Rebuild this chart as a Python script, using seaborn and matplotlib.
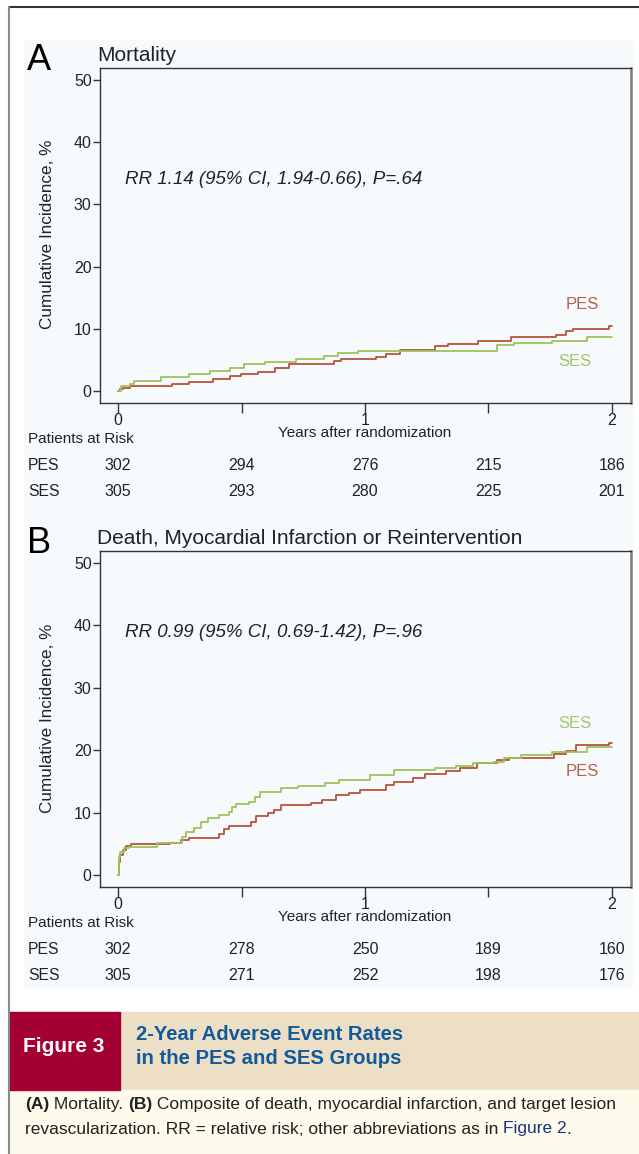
import numpy as np
import pandas as pd
import seaborn as sns
import matplotlib.pyplot as plt
from matplotlib.patches import Rectangle
from matplotlib.transforms import blended_transform_factory

W, H = 639, 1154

# Panel A: mortality, cumulative incidence (%) step points
a_pes_years = [0, 0.008, 0.021, 0.049, 0.217, 0.287, 0.385, 0.455, 0.497, 0.567, 0.637, 0.693,
               0.875, 0.903, 1.043, 1.085, 1.141, 1.282, 1.338, 1.457, 1.590, 1.772, 1.814,
               1.842, 1.989, 2.0]
a_pes = [0, 0.3, 0.5, 0.8, 1.1, 1.4, 1.9, 2.5, 2.7, 3.1, 3.8, 4.3, 4.8, 5.2, 5.5, 6.0, 6.6,
         7.2, 7.6, 8.1, 8.7, 9.1, 9.7, 10.0, 10.4, 10.4]
a_ses_years = [0, 0.014, 0.049, 0.063, 0.175, 0.287, 0.371, 0.455, 0.511, 0.595, 0.721, 0.833,
               0.889, 0.973, 1.534, 1.604, 1.758, 1.898, 2.0]
a_ses = [0, 0.8, 1.2, 1.6, 2.2, 2.8, 3.3, 3.8, 4.3, 4.7, 5.2, 5.6, 6.1, 6.5, 7.4, 7.8, 8.1,
         8.7, 8.7]

# Panel B: death, MI or reintervention
b_pes_years = [0, 0.003, 0.01, 0.02, 0.031, 0.052, 0.212, 0.254, 0.288, 0.407, 0.428, 0.449,
               0.539, 0.560, 0.609, 0.630, 0.658, 0.783, 0.825, 0.881, 0.937, 0.978, 1.083,
               1.118, 1.194, 1.243, 1.327, 1.383, 1.452, 1.536, 1.585, 1.766, 1.815, 1.856,
               1.989, 2.0]
b_pes = [0, 2.1, 3.2, 4.0, 4.7, 5.0, 5.2, 5.6, 6.0, 6.6, 7.4, 7.9, 8.5, 9.5, 10.0, 10.5, 11.2,
         11.6, 12.1, 12.8, 13.2, 13.6, 14.4, 14.9, 15.6, 16.2, 16.7, 17.2, 18.0, 18.4, 18.8,
         19.4, 19.9, 20.8, 21.2, 21.2]
b_ses_years = [0, 0.003, 0.01, 0.024, 0.045, 0.156, 0.212, 0.261, 0.275, 0.309, 0.337, 0.365,
               0.407, 0.449, 0.463, 0.477, 0.532, 0.553, 0.574, 0.658, 0.728, 0.839, 0.895,
               1.020, 1.118, 1.285, 1.369, 1.438, 1.522, 1.564, 1.633, 1.759, 1.898, 2.0]
b_ses = [0, 2.9, 3.7, 4.3, 4.5, 5.1, 5.2, 6.1, 6.9, 7.5, 8.5, 9.1, 9.6, 10.1, 10.9, 11.4, 11.7,
         12.5, 13.3, 14.0, 14.3, 14.8, 15.3, 16.0, 16.8, 17.1, 17.5, 17.9, 18.1, 18.7, 19.2,
         19.7, 20.5, 20.5]

risk_years = [0, 0.5, 1, 1.5, 2]
a_risk_pes = [302, 294, 276, 215, 186]
a_risk_ses = [305, 293, 280, 225, 201]
b_risk_pes = [302, 278, 250, 189, 160]
b_risk_ses = [305, 271, 252, 198, 176]

PES_COLOR = '#b5533c'
SES_COLOR = '#9dc35c'
PES_TEXT = '#b6604c'
SES_TEXT = '#a2c56a'
PANEL_BG = '#f6fafd'
TXT = '#222222'

sns.set_theme(style='ticks')
plt.rcParams['font.family'] = ['Liberation Sans', 'DejaVu Sans']

fig = plt.figure(figsize=(W / 100, H / 100), dpi=100)
fig.patch.set_facecolor('white')


def fx(x):
    return x / W


def fy(y):
    return 1 - y / H


# page furniture
fig.add_artist(Rectangle((fx(24), fy(987)), fx(632) - fx(24), fy(40) - fy(987),
                         transform=fig.transFigure, color=PANEL_BG, zorder=0))
fig.add_artist(Rectangle((fx(9), fy(1090)), 1 - fx(9), fy(1012) - fy(1090),
                         transform=fig.transFigure, color='#ecdfc6', zorder=0))
fig.add_artist(Rectangle((fx(9), fy(1090)), fx(120) - fx(9), fy(1012) - fy(1090),
                         transform=fig.transFigure, color='#a50034', zorder=1))
fig.add_artist(Rectangle((fx(9), 0), 1 - fx(9), fy(1090),
                         transform=fig.transFigure, color='#fefbec', zorder=0))
fig.add_artist(plt.Line2D([fx(9), 1], [fy(7), fy(7)], transform=fig.transFigure,
                          color='#333333', lw=1.5))
fig.add_artist(plt.Line2D([fx(9), fx(9)], [fy(7), 0], transform=fig.transFigure,
                          color='#8a8a8a', lw=1.5))


def km_panel(top, bottom, pes_x, pes_y, ses_x, ses_y, letter, title, rr_text, rr_y,
             pes_lab_y, ses_lab_y, risk_pes, risk_ses):
    ax = fig.add_axes([fx(100), fy(bottom), fx(631) - fx(100), fy(top) - fy(bottom)])
    ax.set_facecolor(PANEL_BG)
    df = pd.concat([
        pd.DataFrame({'years': pes_x, 'inc': pes_y, 'group': 'PES'}),
        pd.DataFrame({'years': ses_x, 'inc': ses_y, 'group': 'SES'}),
    ])
    sns.lineplot(data=df, x='years', y='inc', hue='group',
                 palette={'PES': PES_COLOR, 'SES': SES_COLOR},
                 estimator=None, drawstyle='steps-post', lw=1.3, legend=False, ax=ax)
    ax.set_xlim(-0.073, 2.077)
    ax.set_ylim(-1.9, 51.9)
    ax.set_yticks(range(0, 51, 10))
    ax.set_xticks(risk_years)
    ax.set_xticklabels(['0', '', '1', '', '2'])
    ax.tick_params(axis='y', direction='out', length=5, width=1, pad=1,
                   labelsize=11.5, colors='#333333', labelcolor=TXT)
    ax.tick_params(axis='x', direction='out', length=7, width=1, pad=0,
                   labelsize=11.5, colors='#333333', labelcolor=TXT)
    ax.set_xlabel('')
    ax.set_ylabel('')
    for side in ['left', 'top', 'bottom']:
        ax.spines[side].set_color('#333333')
        ax.spines[side].set_linewidth(1)
    ax.spines['right'].set_color('#7a7a7a')
    ax.spines['right'].set_linewidth(1.8)

    ax.text(0.03, rr_y, rr_text, style='italic', fontsize=13.5, color=TXT, va='center')
    ax.text(1.88, pes_lab_y, 'PES', fontsize=12, color=PES_TEXT, ha='center', va='center')
    ax.text(1.85, ses_lab_y, 'SES', fontsize=12, color=SES_TEXT, ha='center', va='center')

    fig.text(fx(27), fy(top + 2), letter, fontsize=26, color='black', va='baseline')
    fig.text(fx(97), fy(top - 7), title, fontsize=15, color=TXT, va='baseline')
    mid = (top + bottom) / 2
    fig.text(fx(47), fy(mid - 1), 'Cumulative Incidence, %', fontsize=12.3, color=TXT,
             rotation=90, ha='center', va='center')

    tr = blended_transform_factory(ax.transData, fig.transFigure)
    ax.text(1.0, fy(bottom + 30), 'Years after randomization', transform=tr,
            fontsize=11, color=TXT, ha='center', va='center')
    fig.text(fx(28), fy(bottom + 36), 'Patients at Risk', fontsize=11, color=TXT,
             va='center')
    for name, vals, yy in [('PES', risk_pes, bottom + 63), ('SES', risk_ses, bottom + 88)]:
        fig.text(fx(28), fy(yy), name, fontsize=11.3, color=TXT, va='center')
        for xv, n in zip(risk_years, vals):
            ax.text(xv, fy(yy), str(n), transform=tr, fontsize=11.5, color=TXT,
                    ha='center', va='center')
    return ax


km_panel(68, 403, a_pes_years, a_pes, a_ses_years, a_ses, 'A', 'Mortality',
         'RR 1.14 (95% CI, 1.94-0.66), P=.64', 34.0, 13.9, 4.8,
         a_risk_pes, a_risk_ses)
km_panel(551, 887, b_pes_years, b_pes, b_ses_years, b_ses, 'B',
         'Death, Myocardial Infarction or Reintervention',
         'RR 0.99 (95% CI, 0.69-1.42), P=.96', 38.8, 16.6, 24.3,
         b_risk_pes, b_risk_ses)

# figure caption
cap_font = ['Liberation Sans Narrow', 'Liberation Sans', 'DejaVu Sans']
fig.text(fx(64), fy(1046), 'Figure 3', fontsize=15, fontweight='bold', color='white',
         family=cap_font, ha='center', va='center', zorder=3)
fig.text(fx(136), fy(1034), '2-Year Adverse Event Rates', fontsize=14.6, fontweight='bold',
         color='#135a9b', family=cap_font, va='center', zorder=3)
fig.text(fx(136), fy(1059), 'in the PES and SES Groups', fontsize=14.6, fontweight='bold',
         color='#135a9b', family=cap_font, va='center', zorder=3)

renderer = fig.canvas.get_renderer()


def chain(pieces, x0, y):
    x = x0
    for s, weight, color in pieces:
        t = fig.text(fx(x), fy(y), s, fontsize=12.5, fontweight=weight, color=color,
                     family=cap_font, va='center', zorder=3)
        x += t.get_window_extent(renderer).width


chain([('(A)', 'bold', TXT), (' Mortality. ', 'normal', TXT), ('(B)', 'bold', TXT),
       (' Composite of death, myocardial infarction, and target lesion', 'normal', TXT)],
      25, 1105)
chain([('revascularization. RR = relative risk; other abbreviations as in ', 'normal', TXT),
       ('Figure 2', 'normal', '#1b2f8a'), ('.', 'normal', TXT)], 25, 1129)

fig.savefig('out.png', dpi=100, facecolor='white')
